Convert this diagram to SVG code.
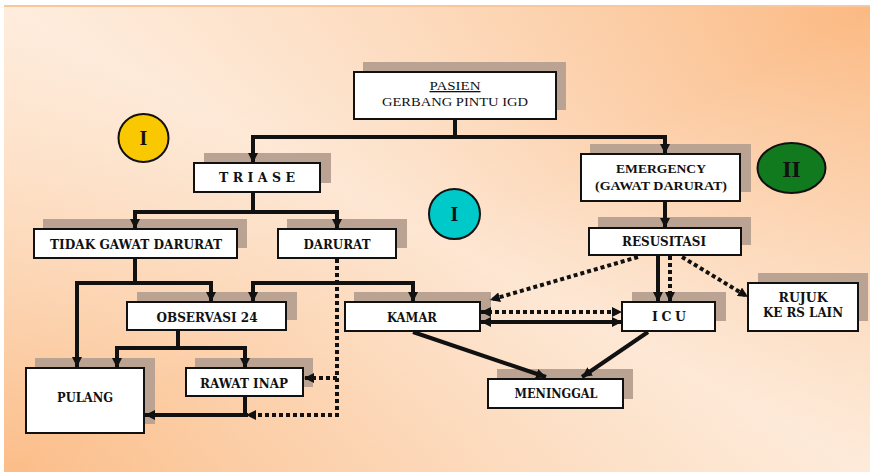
<svg xmlns="http://www.w3.org/2000/svg" width="870" height="472" viewBox="0 0 870 472">
<defs>
<linearGradient id="bg" x1="0" y1="1" x2="1" y2="0">
<stop offset="0" stop-color="#fbbd88"/>
<stop offset="0.5" stop-color="#fde6d2"/>
<stop offset="1" stop-color="#fbb982"/>
</linearGradient>
<linearGradient id="bg2" x1="0" y1="0" x2="1" y2="1">
<stop offset="0" stop-color="#fff3e8" stop-opacity="0.5"/>
<stop offset="0.5" stop-color="#fff3e8" stop-opacity="0"/>
<stop offset="1" stop-color="#fff3e8" stop-opacity="0.35"/>
</linearGradient>
<marker id="ah" viewBox="0 0 10 10" refX="10" refY="5" markerWidth="10" markerHeight="10" markerUnits="userSpaceOnUse" orient="auto-start-reverse">
<path d="M0,0 L10,5 L0,10 z" fill="#111"/>
</marker>
</defs>
<style>
.box{fill:#fff;stroke:#111;stroke-width:2}
.sh{fill:#bba393}
.t{font-family:"DejaVu Serif",serif;font-weight:bold;font-size:12.5px;fill:#111;text-anchor:middle}
.e{font-family:"Liberation Serif",serif;font-weight:bold;font-size:13px;fill:#111;text-anchor:middle}
.p{font-family:"Liberation Serif",serif;font-size:13px;fill:#111;text-anchor:middle}
.c{font-family:"Liberation Serif",serif;font-weight:bold;fill:#111;text-anchor:middle}
.ln{fill:none;stroke:#111;stroke-width:4}
.dt{fill:none;stroke:#111;stroke-width:4;stroke-dasharray:4 3}
.a{marker-end:url(#ah)}
.ab{marker-start:url(#ah);marker-end:url(#ah)}
</style>
<rect x="4" y="5" width="866" height="467" fill="url(#bg)"/>
<rect x="4" y="5" width="866" height="467" fill="url(#bg2)"/>
<line x1="4" y1="6" x2="870" y2="6" stroke="#f8c79c" stroke-width="2"/>

<g id="circle-yellow"><ellipse cx="143.5" cy="138" rx="25" ry="24" fill="#f9c800" stroke="#111" stroke-width="2"/><text class="c" x="143.5" y="145" font-size="20">I</text></g>
<g id="circle-cyan"><ellipse cx="454.5" cy="214" rx="25.5" ry="25" fill="#00c9c9" stroke="#111" stroke-width="2"/><text class="c" x="454.5" y="221" font-size="20">I</text></g>
<g id="circle-green"><ellipse cx="791.5" cy="168" rx="34" ry="25" fill="#117a1e" stroke="#111" stroke-width="2"/><text class="c" x="791.5" y="177" font-size="24">II</text></g>

<g id="node-pasien"><rect class="sh" x="363" y="62" width="203" height="48"/><rect class="box" x="354" y="72" width="202" height="47"/><text class="p" x="455" y="90" text-decoration="underline" textLength="51" lengthAdjust="spacingAndGlyphs">PASIEN</text><text class="p" x="455" y="106" textLength="146" lengthAdjust="spacingAndGlyphs">GERBANG PINTU IGD</text></g>
<g id="node-triase"><rect class="sh" x="204" y="153" width="127" height="30"/><rect class="box" x="194" y="163" width="126" height="29"/><text class="t" x="257" y="182" textLength="76" lengthAdjust="spacing">T R I A S E</text></g>
<g id="node-emergency"><rect class="sh" x="590" y="144" width="161" height="48"/><rect class="box" x="581" y="154" width="159" height="47"/><text class="e" x="661" y="173" textLength="90" lengthAdjust="spacingAndGlyphs">EMERGENCY</text><text class="e" x="661" y="190" textLength="132" lengthAdjust="spacingAndGlyphs">(GAWAT DARURAT)</text></g>
<g id="node-tidak"><rect class="sh" x="43" y="219" width="204" height="29"/><rect class="box" x="34" y="229" width="203" height="29"/><text class="t" x="136" y="249" textLength="172" lengthAdjust="spacingAndGlyphs">TIDAK GAWAT DARURAT</text></g>
<g id="node-darurat"><rect class="sh" x="287" y="219" width="120" height="29"/><rect class="box" x="278" y="229" width="118" height="29"/><text class="t" x="337" y="249" textLength="67" lengthAdjust="spacingAndGlyphs">DARURAT</text></g>
<g id="node-resusitasi"><rect class="sh" x="598" y="217" width="153" height="28"/><rect class="box" x="589" y="228" width="152" height="27"/><text class="t" x="664" y="246" textLength="84" lengthAdjust="spacingAndGlyphs">RESUSITASI</text></g>
<g id="node-observasi"><rect class="sh" x="137" y="292" width="160" height="28"/><rect class="box" x="127" y="302" width="159" height="28"/><text class="t" x="207" y="322" textLength="101" lengthAdjust="spacingAndGlyphs">OBSERVASI 24</text></g>
<g id="node-kamar"><rect class="sh" x="354" y="292" width="137" height="29"/><rect class="box" x="345" y="302" width="135" height="29"/><text class="t" x="412" y="322" textLength="50" lengthAdjust="spacingAndGlyphs">KAMAR</text></g>
<g id="node-icu"><rect class="sh" x="632" y="292" width="94" height="29"/><rect class="box" x="622" y="302" width="93" height="29"/><text class="t" x="669" y="321" textLength="34" lengthAdjust="spacing">I C U</text></g>
<g id="node-rujuk"><rect class="sh" x="758" y="273" width="110" height="48"/><rect class="box" x="748" y="283" width="110" height="48"/><text class="t" x="803" y="302" textLength="49" lengthAdjust="spacingAndGlyphs">RUJUK</text><text class="t" x="803" y="317" textLength="80" lengthAdjust="spacingAndGlyphs">KE RS LAIN</text></g>
<g id="node-pulang"><rect class="sh" x="35" y="358" width="120" height="66"/><rect class="box" x="26" y="368" width="118" height="65"/><text class="t" x="85" y="402" textLength="56" lengthAdjust="spacingAndGlyphs">PULANG</text></g>
<g id="node-rawatinap"><rect class="sh" x="195" y="358" width="118" height="29"/><rect class="box" x="186" y="368" width="117" height="28"/><text class="t" x="244" y="388" textLength="88" lengthAdjust="spacingAndGlyphs">RAWAT INAP</text></g>
<g id="node-meninggal"><rect class="sh" x="497" y="369" width="136" height="30"/><rect class="box" x="488" y="379" width="135" height="29"/><text class="t" x="556" y="398" textLength="83" lengthAdjust="spacingAndGlyphs">MENINGGAL</text></g>

<g id="connectors">
<path class="ln" d="M455,120 V137"/>
<path class="ln a" d="M455,137 H253 V163"/>
<path class="ln a" d="M455,137 H665 V154"/>
<path class="ln" d="M253,193 V212"/>
<path class="ln a" d="M253,212 H135 V229"/>
<path class="ln a" d="M253,212 H337 V229"/>
<path class="ln" d="M135,259 V283"/>
<path class="ln a" d="M135,283 H77 V367"/>
<path class="ln a" d="M135,283 H211 V302"/>
<path class="ln a" d="M333,283 H253 V302"/>
<path class="ln a" d="M333,283 H413 V302"/>
<path class="ln" d="M178,331 V348"/>
<path class="ln a" d="M178,348 H117 V368"/>
<path class="ln a" d="M178,348 H245 V368"/>
<path class="ln a" d="M245,397 V415 H145"/>
<path class="dt a" d="M337,259 V415 H246"/>
<path class="dt a" d="M337,378 H304"/>
<path class="ln a" d="M665,202 V228"/>
<path class="ln a" d="M658,256 V302"/>
<path class="dt a" d="M670,256 V302"/>
<path class="dt a" d="M638,257 L490,300"/>
<path class="dt a" d="M682,257 L748,297"/>
<path class="dt ab" d="M481,312 H622"/>
<path class="ln ab" d="M481,322 H622"/>
<path class="ln a" d="M413,332 L546,377"/>
<path class="ln a" d="M648,332 L582,377"/>
</g>
</svg>
